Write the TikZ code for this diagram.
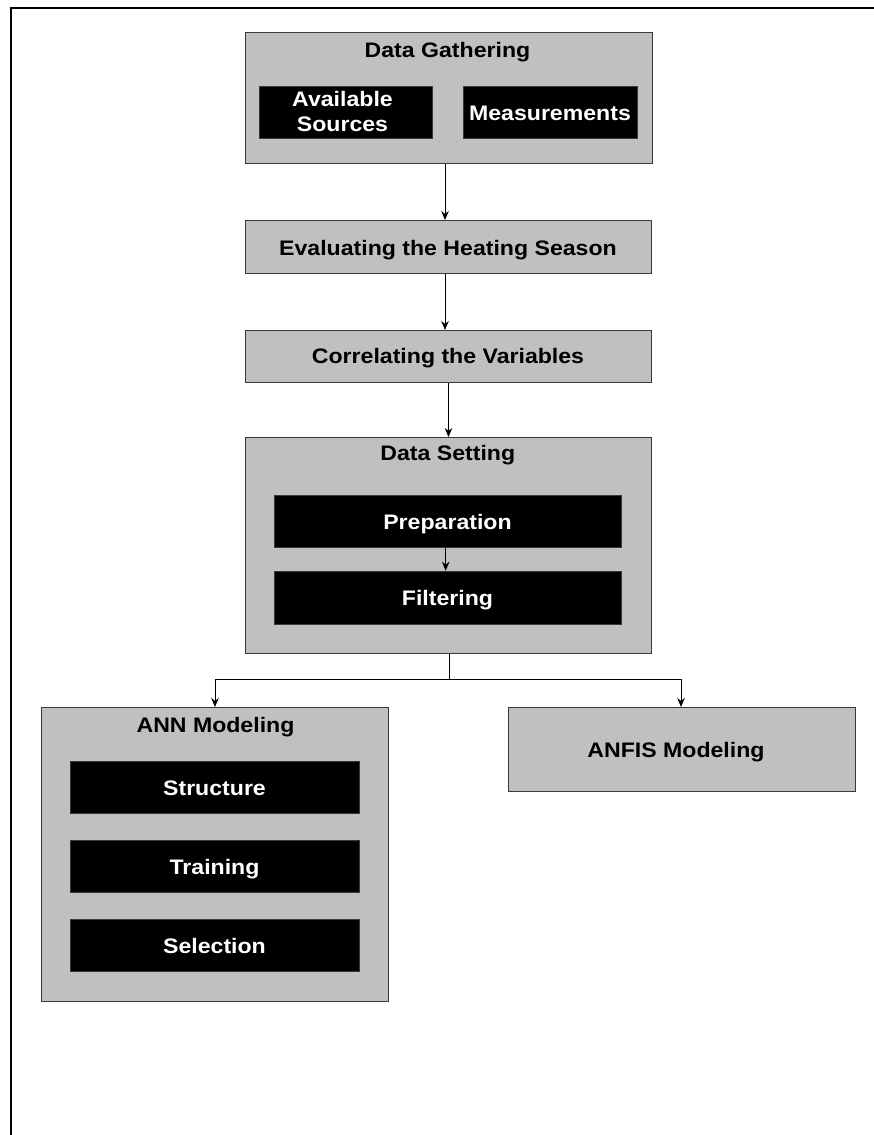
\documentclass[tikz,border=0pt]{standalone}
\usepackage{fontspec}
\setmainfont{Liberation Sans}[FakeStretch=1.1]
\usetikzlibrary{arrows.meta}
\definecolor{boxgray}{HTML}{C0C0C0}
\definecolor{edgegray}{HTML}{383838}
\newcommand{\lblfont}{\bfseries\fontsize{21}{25}\selectfont}
\begin{document}
\begin{tikzpicture}[x=1pt,y=-1pt,
  outer/.style={draw=edgegray,line width=1pt,fill=boxgray,anchor=north west,inner sep=0pt},
  inner/.style={draw=edgegray,line width=0.6pt,fill=black,text=white,font=\lblfont,align=center,inner sep=0pt},
  oneline/.style={text height=16pt,text depth=0pt},
  title/.style={font=\lblfont,inner sep=0pt,anchor=base},
  arr/.style={-{Stealth[length=9pt,width=7.5pt]},line width=0.9pt}]
\useasboundingbox (0,0) rectangle (874,1135);
\fill[white] (0,0) rectangle (874,1135);
% frame
\draw[line width=1.2pt] (11,1135) -- (11,8) -- (874,8);
% Data Gathering
\node[outer,minimum width=407pt,minimum height=131pt] (dg) at (245,32) {};
\node[title] (dgt) at (447.5,57.7) {Data Gathering};
\node[inner,minimum width=173pt,minimum height=52pt] (as) at (346,112) {};
\node[font=\lblfont,text=white,align=center,inner sep=0pt] (ast) at (342.5,111.5) {Available\\Sources};
\node[inner,oneline,minimum width=174pt,minimum height=52pt] (me) at (550,112) {Measurements};
% Evaluating
\node[outer,minimum width=406pt,minimum height=53pt] (ev) at (245,220) {};
\node[title] (evt) at (448,255.7) {Evaluating the Heating Season};
% Correlating
\node[outer,minimum width=406pt,minimum height=52pt] (co) at (245,330) {};
\node[title] (cot) at (448,363.3) {Correlating the Variables};
% Data Setting
\node[outer,minimum width=406pt,minimum height=216pt] (ds) at (245,437) {};
\node[title] (dst) at (447.8,460.7) {Data Setting};
\node[inner,oneline,minimum width=347pt,minimum height=52pt] (pr) at (447.5,521.3) {Preparation};
\node[inner,oneline,minimum width=347pt,minimum height=53pt] (fi) at (447.5,597.5) {Filtering};
% ANN
\node[outer,minimum width=347pt,minimum height=294pt] (ann) at (41,707) {};
\node[title] (annt) at (215.5,732.7) {ANN Modeling};
\node[inner,oneline,minimum width=289pt,minimum height=52pt] (st) at (214.5,787) {Structure};
\node[inner,oneline,minimum width=289pt,minimum height=52pt] (tr) at (214.5,866) {Training};
\node[inner,oneline,minimum width=289pt,minimum height=52pt] (se) at (214.5,945.3) {Selection};
% ANFIS
\node[outer,minimum width=347pt,minimum height=84pt] (anf) at (508,707) {};
\node[title] (anft) at (676,757) {ANFIS Modeling};
% connectors
\draw[arr] (dg.south -| 445,0) -- (ev.north -| 445,0);
\draw[arr] (ev.south -| 445,0) -- (co.north -| 445,0);
\draw[arr] (co.south -| 448.5,0) -- (ds.north -| 448.5,0);
\draw[arr] (pr.south -| 445.7,0) -- (fi.north -| 445.7,0);
\coordinate (split) at (449,679);
\draw[line width=0.9pt] (ds.south -| split) -- (split);
\draw[arr] (split) -| (ann.north -| 215,0);
\draw[arr] (split) -| (anf.north -| 681,0);
\end{tikzpicture}
\end{document}
